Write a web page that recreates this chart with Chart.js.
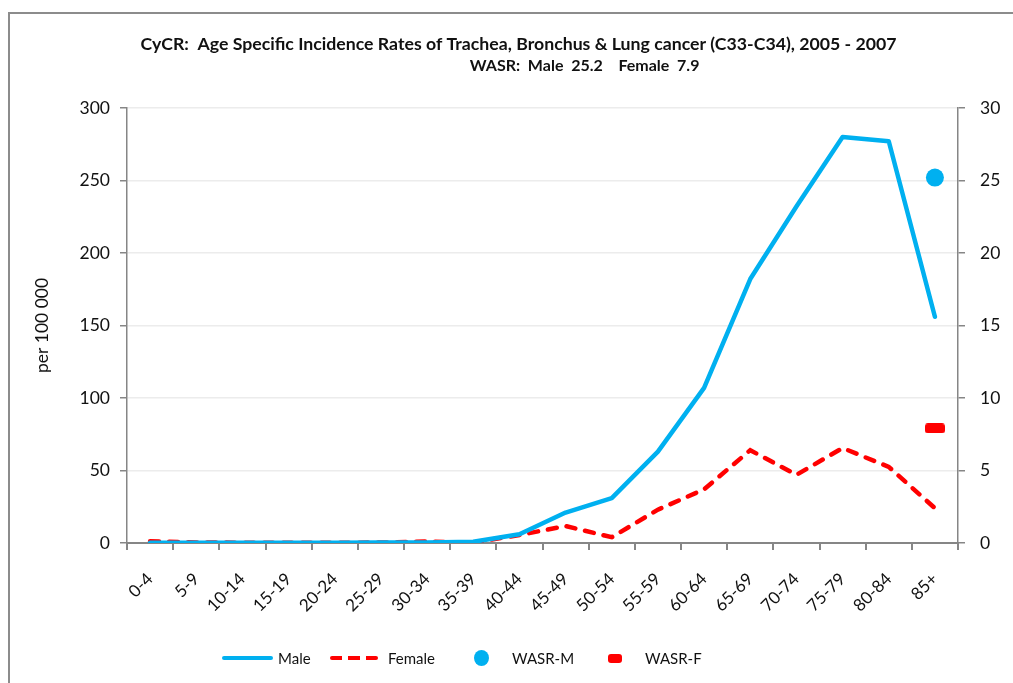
<!DOCTYPE html>
<html>
<head>
<meta charset="utf-8">
<script src="https://cdn.jsdelivr.net/npm/chart.js@4"></script>
<style>
    html, body { margin: 0; background: #fff; font-family: Lato, sans-serif; overflow: hidden; }
    #wrap { position: relative; width: 1013px; height: 683px; overflow: hidden; }
    #frame { position: absolute; left: 8px; top: 12px; width: 1020px; height: 700px; border-left: 2px solid #8c8c8c; border-top: 2px solid #8c8c8c; }
    #myChart { position: absolute; left: 0; top: 0; }
    .legItem { position: absolute; top: 648px; height: 20px; font-size: 15px; color: #111; line-height: 20px; }
    .legMark { position: absolute; }
</style>
</head>
<body>
<div id="wrap">
    <div id="frame"></div>
    <canvas id="myChart" width="1013" height="683"></canvas>
    <div id="legend"></div>
</div>
<script>
const ageGroups = ['0-4', '5-9', '10-14', '15-19', '20-24', '25-29', '30-34', '35-39', '40-44',
    '45-49', '50-54', '55-59', '60-64', '65-69', '70-74', '75-79', '80-84', '85+'];
const maleRates = [0.2, 0.1, 0.1, 0.2, 0.2, 0.3, 0.4, 0.8, 6, 21, 31, 63, 107, 182, 232, 280, 277, 156];
const femaleRates = [1.2, 0.4, 0.2, 0.2, 0.2, 0.3, 1.0, 0.3, 5.5, 11.7, 4, 23, 37, 64, 47, 65.5, 52.5, 24];
const wasrMale = [null, null, null, null, null, null, null, null, null, null, null, null, null, null, null, null, null, 25.2];
const wasrFemale = [null, null, null, null, null, null, null, null, null, null, null, null, null, null, null, null, null, 7.9];
const leftTicks = [0, 50, 100, 150, 200, 250, 300];
const rightTicks = [0, 5, 10, 15, 20, 25, 30];

const BLUE = '#00B0F0';
const RED = '#FF0000';
const AXIS = '#868686';
const FONT = 'Lato';

// wide rounded red marker used for WASR-F
function makeBarMarker() {
    const c = document.createElement('canvas');
    c.width = 20; c.height = 10;
    const g = c.getContext('2d');
    g.fillStyle = RED;
    g.beginPath();
    g.roundRect(0, 0, 20, 10, 3);
    g.fill();
    return c;
}

const chart = new Chart(document.getElementById('myChart'), {
    type: 'line',
    data: {
        labels: ageGroups,
        datasets: [
            { label: 'Male', data: maleRates, yAxisID: 'y', borderColor: BLUE, backgroundColor: BLUE,
              borderWidth: 4.5, pointRadius: 0, tension: 0, borderJoinStyle: 'round', borderCapStyle: 'round' },
            { label: 'Female', data: femaleRates, yAxisID: 'y', borderColor: RED, backgroundColor: RED,
              borderWidth: 4.5, borderDash: [9, 10], borderCapStyle: 'round', pointRadius: 0, tension: 0 },
            { label: 'WASR-M', data: wasrMale, yAxisID: 'y2', showLine: false, pointStyle: 'circle',
              pointRadius: 9, pointBackgroundColor: BLUE, pointBorderWidth: 0 },
            { label: 'WASR-F', data: wasrFemale, yAxisID: 'y2', showLine: false, pointStyle: makeBarMarker(),
              pointRadius: 6 }
        ]
    },
    options: {
        responsive: false,
        animation: false,
        layout: { padding: { left: 24, right: 0, top: 0, bottom: 40 } },
        plugins: {
            legend: { display: false },
            tooltip: { enabled: false },
            title: {
                display: true,
                text: 'CyCR:  Age Specific Incidence Rates of Trachea, Bronchus & Lung cancer (C33-C34), 2005 - 2007',
                color: '#111',
                font: { family: FONT, size: 17.7, weight: 'bold', lineHeight: 1.2 },
                padding: { top: 34, bottom: 0 }
            },
            subtitle: {
                display: true,
                // the second line sits right of centre in the original
                text: ' '.repeat(34) + 'WASR:  Male  25.2    Female  7.9',
                color: '#111',
                font: { family: FONT, size: 16, weight: 'bold', lineHeight: 1.2 },
                padding: { top: 1.5, bottom: 32 }
            }
        },
        scales: {
            x: {
                offset: true,
                grid: { display: true, offset: true, drawOnChartArea: false, drawTicks: true, tickLength: 7, color: AXIS, lineWidth: 2 },
                border: { color: AXIS, width: 2 },
                ticks: { color: '#111', font: { family: FONT, size: 17 }, maxRotation: 45, minRotation: 45, padding: 19, autoSkip: false },
                afterFit: s => { s.height = 100; }
            },
            y: {
                position: 'left',
                min: 0, max: 300,
                afterBuildTicks: s => { s.ticks = leftTicks.map(v => ({ value: v })); },
                grid: { color: '#ececec', lineWidth: 1.5, tickColor: AXIS, tickLength: 7 },
                border: { color: AXIS, width: 1.5 },
                ticks: { color: '#111', font: { family: FONT, size: 17.5 }, padding: 10 },
                title: { display: true, text: 'per 100 000', color: '#111', font: { family: FONT, size: 17.5 }, padding: { top: 8 } },
                afterFit: s => { s.width = 103; }
            },
            y2: {
                position: 'right',
                min: 0, max: 30,
                afterBuildTicks: s => { s.ticks = rightTicks.map(v => ({ value: v })); },
                grid: { drawOnChartArea: false, color: AXIS, tickLength: 7, lineWidth: 1.5 },
                border: { color: AXIS, width: 1.5, dash: [6, 4] },
                ticks: { color: '#111', font: { family: FONT, size: 17.5 }, padding: 15 },
                afterFit: s => { s.width = 55; }
            }
        }
    }
});

// legend below the chart, built from the dataset labels
const legendSpec = [
    { label: 'Male', mark: `left:0;top:8px;width:51px;height:4px;border-radius:2px;background:${BLUE}`, left: 222, textLeft: 56 },
    { label: 'Female', mark: `left:0;top:8px;width:48px;height:4px;background:repeating-linear-gradient(90deg, ${RED} 0 12px, transparent 12px 18px);border-radius:2px`, left: 330, textLeft: 58 },
    { label: 'WASR-M', mark: `left:0;top:2px;width:15px;height:16px;border-radius:50%;background:${BLUE}`, left: 474, textLeft: 38 },
    { label: 'WASR-F', mark: `left:0;top:6px;width:14px;height:9px;border-radius:3px;background:${RED}`, left: 608, textLeft: 37 }
];
document.getElementById('legend').innerHTML = legendSpec.map(it =>
    `<div class="legItem" style="left:${it.left}px"><span class="legMark" style="${it.mark}"></span><span style="position:absolute;left:${it.textLeft}px;white-space:nowrap">${it.label}</span></div>`
).join('');
</script>
</body>
</html>
